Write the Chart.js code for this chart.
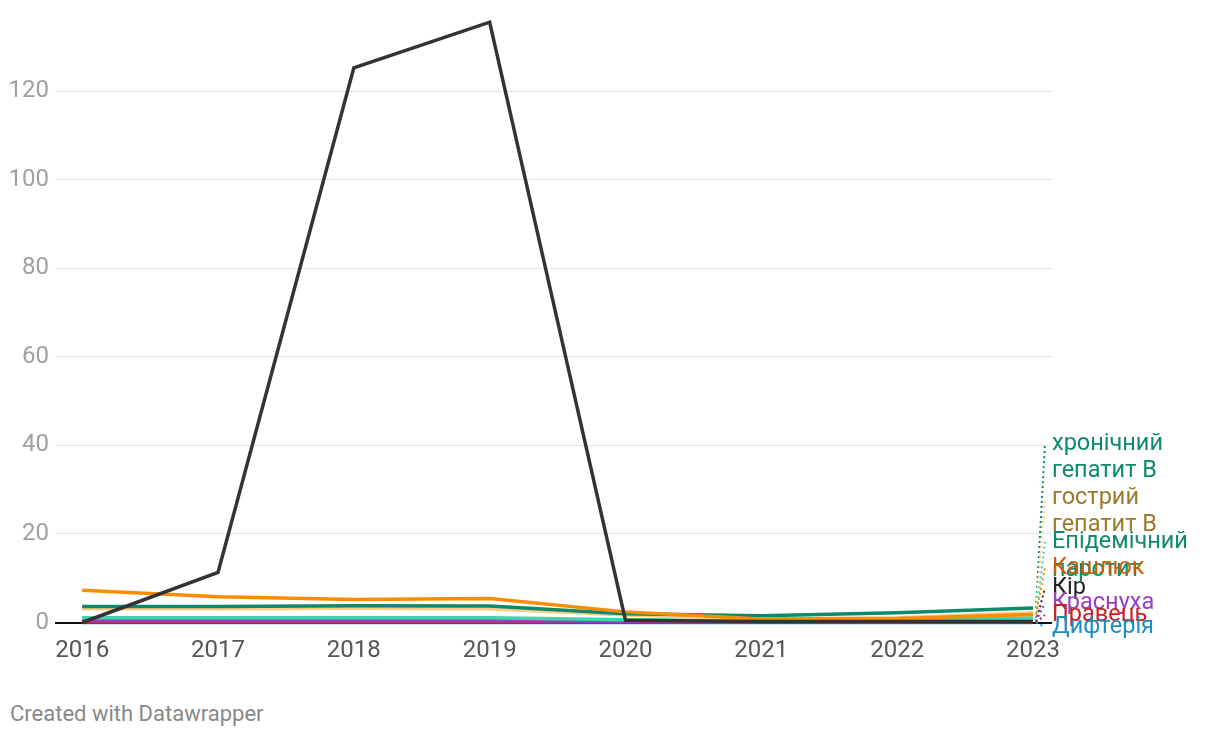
<!DOCTYPE html>
<html lang="uk">
<head>
    <meta charset="UTF-8">
    <title>Захворюваність</title>
    <style>
        body {
            margin: 0;
            padding: 0;
            background: #fff;
            font-family: Roboto, Arial, sans-serif;
        }
        .wrap {
            position: relative;
            width: 1220px;
            height: 680px;
        }
        .footer {
            position: absolute;
            left: 10px;
            top: 701px;
            font-size: 22px;
            color: #888;
        }
    </style>
    <script src="https://cdn.jsdelivr.net/npm/chart.js"></script>
</head>
<body>
    <div class="wrap"><canvas id="chart"></canvas></div>
    <div class="footer">Created with Datawrapper</div>

    <script>
        const years = [2016, 2017, 2018, 2019, 2020, 2021, 2022, 2023];
        const yTicks = [0, 20, 40, 60, 80, 100, 120];

        const kir        = [0, 11.3, 125.3, 135.6, 0.5, 0.2, 0.2, 0.2];
        const kashliuk   = [7.3, 5.8, 5.2, 5.4, 2.4, 0.8, 0.9, 1.8];
        const khronGepB  = [3.6, 3.6, 3.8, 3.7, 2.0, 1.5, 2.2, 3.3];
        const gostrGepB  = [3.1, 3.1, 3.2, 3.1, 1.7, 0.8, 1.1, 2.2];
        const parotyt    = [1.1, 1.1, 1.1, 1.1, 0.6, 0.4, 0.5, 1.0];
        const krasnukha  = [0.4, 0.4, 0.4, 0.4, 0.2, 0.1, 0.1, 0.3];
        const pravets    = [0.05, 0.05, 0.05, 0.05, 0.05, 0.05, 0.05, 0.05];
        const dyfteriia  = [0, 0, 0, 0, 0, 0, 0, 0];

        // name lines, line colour, label colour, label centre lines (px)
        const series = [
            { lines: ['Кір'], data: kir, color: '#333333', text: '#222222', ly: [588] },
            { lines: ['Кашлюк'], data: kashliuk, color: '#fa8c00', text: '#c55f05', ly: [568] },
            { lines: ['хронічний', 'гепатит В'], data: khronGepB, color: '#0d8a6c', text: '#0f8a6e', ly: [444, 471] },
            { lines: ['гострий', 'гепатит В'], data: gostrGepB, color: '#fdcd86', text: '#9c7a2c', ly: [498, 525] },
            { lines: ['Епідемічний', 'паротит'], data: parotyt, color: '#3dd6ad', text: '#14896a', ly: [542, 570] },
            { lines: ['Краснуха'], data: krasnukha, color: '#9b3dc0', text: '#9b3dc0', ly: [603] },
            { lines: ['Правець'], data: pravets, color: '#c8201e', text: '#c8201e', ly: [615] },
            { lines: ['Дифтерія'], data: dyfteriia, color: '#1b95c8', text: '#1b8fc0', ly: [627] }
        ];
        // label paint order (Кашлюк over паротит)
        const labelOrder = [2, 3, 4, 1, 0, 5, 6, 7];

        const directLabels = {
            id: 'directLabels',
            afterDatasetsDraw(chart) {
                const ctx = chart.ctx;
                const xs = chart.scales.x, ys = chart.scales.y;
                ctx.save();
                ctx.font = '23.5px Roboto';
                ctx.textBaseline = 'middle';
                ctx.textAlign = 'left';
                labelOrder.forEach(i => {
                    const s = series[i];
                    const last = s.data[s.data.length - 1];
                    const x0 = xs.getPixelForValue(years[years.length - 1]) + 3;
                    const y0 = ys.getPixelForValue(last);
                    ctx.strokeStyle = s.color;
                    ctx.lineWidth = 2;
                    ctx.setLineDash([2, 3]);
                    ctx.beginPath();
                    ctx.moveTo(x0, y0);
                    ctx.lineTo(x0 + 9, s.ly[0]);
                    ctx.stroke();
                    ctx.setLineDash([]);
                    ctx.fillStyle = s.text;
                    s.lines.forEach((t, k) => ctx.fillText(t, 1052, s.ly[k]));
                });
                ctx.restore();
            }
        };

        new Chart(document.getElementById('chart'), {
            type: 'line',
            data: {
                datasets: series.map(s => ({
                    label: s.lines.join(' '),
                    data: years.map((y, i) => ({ x: y, y: s.data[i] })),
                    borderColor: s.color,
                    borderWidth: 3.5,
                    pointRadius: 0,
                    fill: false,
                    tension: 0,
                    clip: false
                }))
            },
            options: {
                responsive: true,
                maintainAspectRatio: false,
                animation: false,
                layout: { padding: { top: 3, right: 168, left: 0, bottom: 0 } },
                plugins: { legend: { display: false }, tooltip: { enabled: false } },
                scales: {
                    x: {
                        type: 'linear',
                        min: 2015.8,
                        max: 2023.14,
                        afterBuildTicks: axis => { axis.ticks = years.map(v => ({ value: v })); },
                        afterFit: axis => { axis.height = 57.5; },
                        grid: { display: false },
                        border: { display: false },
                        ticks: {
                            color: '#555',
                            font: { family: 'Roboto', size: 24 },
                            padding: 6,
                            maxRotation: 0,
                            callback: v => String(v)
                        }
                    },
                    y: {
                        min: 0,
                        max: 136,
                        afterBuildTicks: axis => { axis.ticks = yTicks.map(v => ({ value: v })); },
                        afterFit: axis => { axis.width = 55; },
                        border: { display: false },
                        grid: {
                            drawTicks: false,
                            color: ctx => ctx.tick.value === 0 ? '#111' : '#e2e2e2',
                            lineWidth: ctx => ctx.tick.value === 0 ? 2 : 1
                        },
                        ticks: {
                            color: '#a0a0a0',
                            font: { family: 'Roboto', size: 24 },
                            padding: 6
                        }
                    }
                }
            },
            plugins: [directLabels]
        });
    </script>
</body>
</html>
